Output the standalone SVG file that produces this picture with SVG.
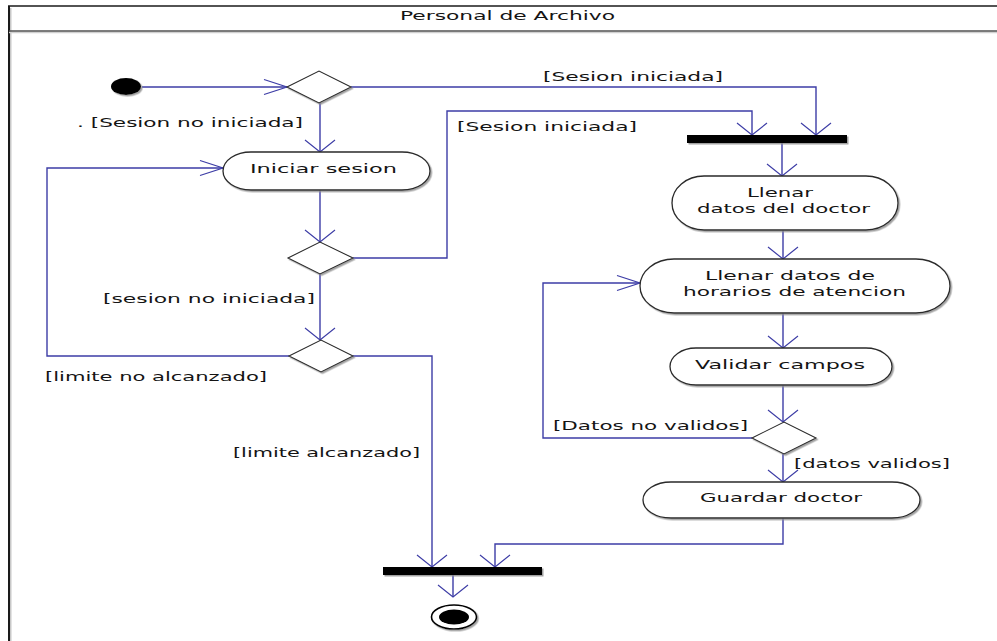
<svg xmlns="http://www.w3.org/2000/svg" width="997" height="641" viewBox="0 0 997 641">
  <defs>
    <filter id="shade" x="-10%" y="-20%" width="130%" height="160%">
      <feDropShadow dx="1.5" dy="1.5" stdDeviation="0.7" flood-color="#8a8a8a" flood-opacity="0.8"/>
    </filter>
    <style>
      .lbl { font-family: "DejaVu Sans", "Liberation Sans", sans-serif; font-size: 13px; fill: #141414; }
      .act { fill: #ffffff; stroke: #2a2a2a; stroke-width: 1.3; filter: url(#shade); }
      .dec { fill: #ffffff; stroke: #2a2a2a; stroke-width: 1.1; filter: url(#shade); }
      .bar { fill: #000000; filter: url(#shade); }
      .flow { fill: none; stroke: #3d3da6; stroke-width: 1.4; }
      .head { fill: none; stroke: #3d3da6; stroke-width: 1.2; }
    </style>
  </defs>

  <rect width="997" height="641" fill="#ffffff"/>

  <!-- swimlane frame -->
  <g id="lane">
    <line x1="10.5" y1="8" x2="10.5" y2="641" stroke="#c8c8c8" stroke-width="2"/>
    <line x1="9" y1="6" x2="9" y2="641" stroke="#1a1a1a" stroke-width="2"/>
    <line x1="8" y1="6" x2="997" y2="6" stroke="#1a1a1a" stroke-width="1.6"/>
    <line x1="9" y1="32.5" x2="997" y2="32.5" stroke="#d0d0d0" stroke-width="1.5"/>
    <line x1="9" y1="31" x2="997" y2="31" stroke="#505050" stroke-width="1.6"/>
    <text class="lbl" x="400" y="20" textLength="215" lengthAdjust="spacingAndGlyphs">Personal de Archivo</text>
  </g>

  <!-- connectors -->
  <g id="connectors">
    <path class="flow" d="M142,87 H287"/>
    <path class="head" d="M264,79.5 L287,87 L264,94.5"/>

    <path class="flow" d="M351,87 H816 V135"/>
    <path class="head" d="M801,123 L816,135 L831,123"/>

    <path class="flow" d="M320,103 V152"/>
    <path class="head" d="M305,140 L320,152 L335,140"/>

    <path class="flow" d="M320,190 V242"/>
    <path class="head" d="M305,230 L320,242 L335,230"/>

    <path class="flow" d="M353,258 H447 V111 H752 V135"/>
    <path class="head" d="M737,123 L752,135 L767,123"/>

    <path class="flow" d="M320,274 V340"/>
    <path class="head" d="M305,328 L320,340 L335,328"/>

    <path class="flow" d="M289,356 H47 V168 H223"/>
    <path class="head" d="M200,160.5 L223,168 L200,175.5"/>

    <path class="flow" d="M353,356 H432 V567"/>
    <path class="head" d="M417,555 L432,567 L447,555"/>

    <path class="flow" d="M782,143 V176"/>
    <path class="head" d="M767,164 L782,176 L797,164"/>

    <path class="flow" d="M783,230 V259"/>
    <path class="head" d="M768,247 L783,259 L798,247"/>

    <path class="flow" d="M783,313 V348"/>
    <path class="head" d="M768,336 L783,348 L798,336"/>

    <path class="flow" d="M783,385 V422"/>
    <path class="head" d="M768,410 L783,422 L798,410"/>

    <path class="flow" d="M752,438 H543 V283 H640"/>
    <path class="head" d="M617,275.5 L640,283 L617,290.5"/>

    <path class="flow" d="M783,454 V482"/>
    <path class="head" d="M768,470 L783,482 L798,470"/>

    <path class="flow" d="M783,518 V544 H495 V567"/>
    <path class="head" d="M480,555 L495,567 L510,555"/>

    <path class="flow" d="M453,567 V597"/>
    <path class="head" d="M438,585 L453,597 L468,585"/>

    <text class="lbl" x="543" y="81" textLength="180" lengthAdjust="spacingAndGlyphs">[Sesion iniciada]</text>
    <text class="lbl" x="77" y="127" textLength="226" lengthAdjust="spacingAndGlyphs">. [Sesion no iniciada]</text>
    <text class="lbl" x="457" y="131" textLength="180" lengthAdjust="spacingAndGlyphs">[Sesion iniciada]</text>
    <text class="lbl" x="103" y="303" textLength="212" lengthAdjust="spacingAndGlyphs">[sesion no iniciada]</text>
    <text class="lbl" x="45" y="381" textLength="222" lengthAdjust="spacingAndGlyphs">[limite no alcanzado]</text>
    <text class="lbl" x="233" y="457" textLength="187" lengthAdjust="spacingAndGlyphs">[limite alcanzado]</text>
    <text class="lbl" x="553" y="430" textLength="195" lengthAdjust="spacingAndGlyphs">[Datos no validos]</text>
    <text class="lbl" x="794" y="468" textLength="156" lengthAdjust="spacingAndGlyphs">[datos validos]</text>
  </g>

  <!-- start -->
  <g id="initial">
    <ellipse cx="126" cy="86.5" rx="15" ry="8.5" fill="#000000" filter="url(#shade)"/>
  </g>

  <!-- decisions -->
  <g id="decision-session">
    <polygon class="dec" points="287,87 319,71 351,87 319,103"/>
  </g>
  <g id="decision-login">
    <polygon class="dec" points="288,258 320,242 353,258 320,274"/>
  </g>
  <g id="decision-limit">
    <polygon class="dec" points="289,356 321,340 353,356 321,372"/>
  </g>
  <g id="decision-valid">
    <polygon class="dec" points="752,438 784,422 816,438 784,454"/>
  </g>

  <!-- actions -->
  <g id="iniciar-sesion">
    <rect class="act" x="223" y="152" width="207" height="38" rx="28" ry="19"/>
    <text class="lbl" x="250" y="173" textLength="147" lengthAdjust="spacingAndGlyphs">Iniciar sesion</text>
  </g>
  <g id="llenar-doctor">
    <rect class="act" x="672" y="176" width="226" height="54" rx="32" ry="27"/>
    <text class="lbl" x="747" y="197" textLength="66" lengthAdjust="spacingAndGlyphs">Llenar</text>
    <text class="lbl" x="697" y="213" textLength="173" lengthAdjust="spacingAndGlyphs">datos del doctor</text>
  </g>
  <g id="llenar-horarios">
    <rect class="act" x="640" y="259" width="310" height="54" rx="34" ry="27"/>
    <text class="lbl" x="705" y="280" textLength="170" lengthAdjust="spacingAndGlyphs">Llenar datos de</text>
    <text class="lbl" x="683" y="296" textLength="223" lengthAdjust="spacingAndGlyphs">horarios de atencion</text>
  </g>
  <g id="validar-campos">
    <rect class="act" x="670" y="348" width="222" height="37" rx="26" ry="18.5"/>
    <text class="lbl" x="695" y="369" textLength="170" lengthAdjust="spacingAndGlyphs">Validar campos</text>
  </g>
  <g id="guardar-doctor">
    <rect class="act" x="643" y="482" width="277" height="36" rx="28" ry="18"/>
    <text class="lbl" x="700" y="502" textLength="162" lengthAdjust="spacingAndGlyphs">Guardar doctor</text>
  </g>

  <!-- synchronisation bars -->
  <g id="join-top">
    <rect class="bar" x="687" y="135" width="160" height="8"/>
  </g>
  <g id="join-bottom">
    <rect class="bar" x="383" y="567" width="159" height="8"/>
  </g>

  <!-- end -->
  <g id="final">
    <ellipse cx="454" cy="617" rx="22.5" ry="12" fill="#ffffff" stroke="#000000" stroke-width="1.6" filter="url(#shade)"/>
    <ellipse cx="454" cy="617" rx="15" ry="7.5" fill="#000000"/>
  </g>
</svg>
